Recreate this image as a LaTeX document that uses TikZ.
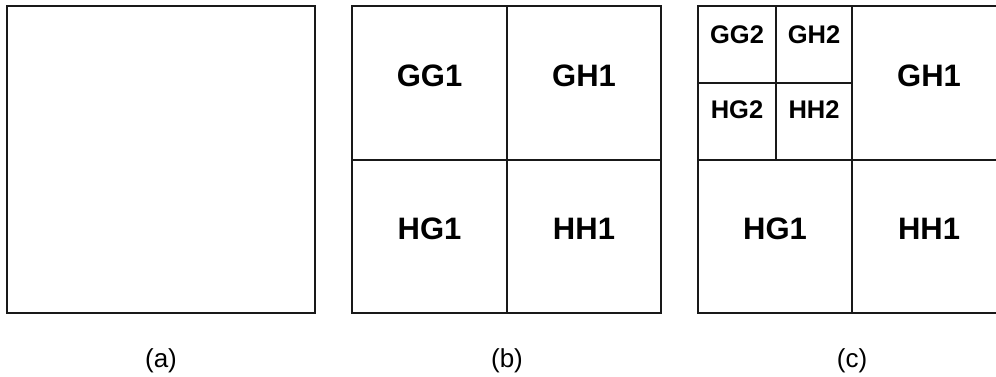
\documentclass[tikz,border=0pt]{standalone}
\usepackage{fontspec}
\setmainfont{Liberation Sans}
\begin{document}
\begin{tikzpicture}[x=1pt,y=-1pt,
  grid/.style={line width=1.4pt,draw=black!90},
  biglbl/.style={anchor=base,inner sep=0pt,font=\fontsize{31}{31}\selectfont\bfseries},
  smalllbl/.style={anchor=base,inner sep=0pt,font=\fontsize{25.5}{26}\selectfont\bfseries},
  caption/.style={anchor=base,inner sep=0pt,font=\fontsize{26}{26}\selectfont}]
\useasboundingbox (0,0) rectangle (996,376);
\clip (0,0) rectangle (996,376);

% (a) undivided block
\draw[grid] (7,6) rectangle (315,313);
\node[caption] (capA) at (161,367) {(a)};

% (b) first-level split into four quadrants
\draw[grid] (352,6) rectangle (661,313);
\draw[grid] (507,6) -- (507,313);
\draw[grid] (352,160) -- (661,160);
\node[biglbl] (bGG1) at (429.5,86) {GG1};
\node[biglbl] (bGH1) at (584,86) {GH1};
\node[biglbl] (bHG1) at (429.5,239) {HG1};
\node[biglbl] (bHH1) at (584,239) {HH1};
\node[caption] (capB) at (507,367) {(b)};

% (c) second-level split of the top-left quadrant
\draw[grid] (698,6) rectangle (1006,313);
\draw[grid] (852,6) -- (852,313);
\draw[grid] (698,160) -- (1006,160);
\draw[grid] (776,6) -- (776,160);
\draw[grid] (698,83) -- (852,83);
\node[smalllbl] (cGG2) at (737,43) {GG2};
\node[smalllbl] (cGH2) at (814,43) {GH2};
\node[smalllbl] (cHG2) at (737,118.5) {HG2};
\node[smalllbl] (cHH2) at (814,118.5) {HH2};
\node[biglbl] (cGH1) at (929,86) {GH1};
\node[biglbl] (cHG1) at (775,239) {HG1};
\node[biglbl] (cHH1) at (929,239) {HH1};
\node[caption] (capC) at (852,367) {(c)};
\end{tikzpicture}
\end{document}
